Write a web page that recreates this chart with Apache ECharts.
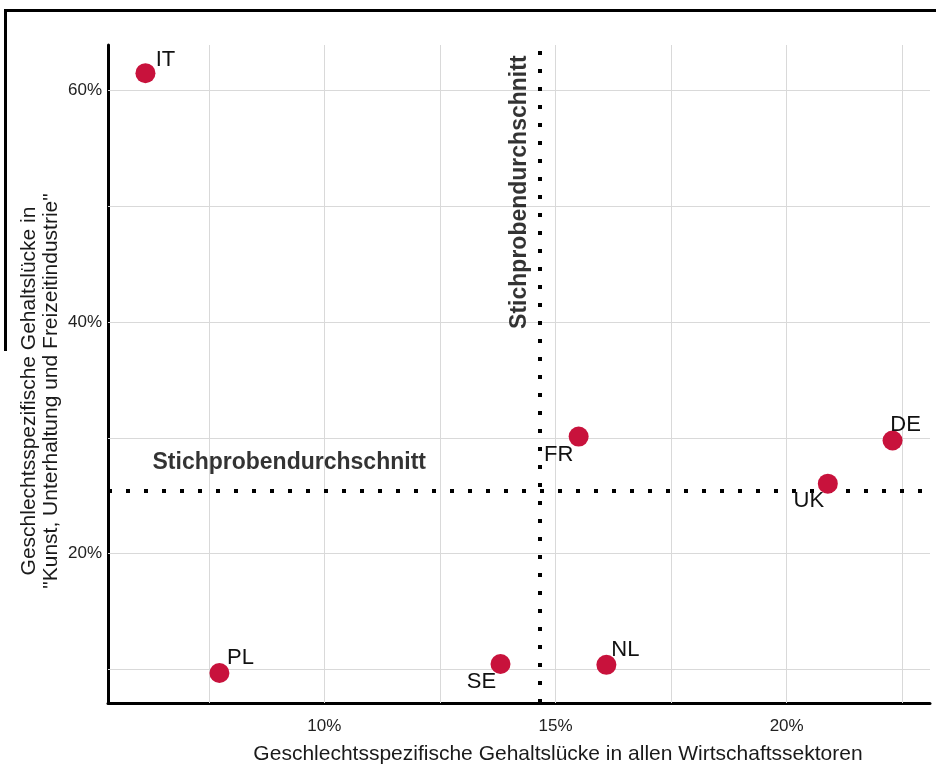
<!DOCTYPE html>
<html><head><meta charset="utf-8">
<script src="https://cdn.jsdelivr.net/npm/echarts@6/dist/echarts.min.js"></script>
<style>html,body{margin:0;padding:0;background:#fff}#c{width:936px;height:765px}</style>
</head><body><div id="c"></div>
<script>
const countries = ['IT','PL','SE','FR','NL','UK','DE'];
const gapAllSectors = [6.13, 7.73, 13.81, 15.50, 16.10, 20.89, 22.29];
const gapArts = [61.47, 9.71, 10.49, 30.11, 10.41, 26.05, 29.77];
const avgAllSectors = 14.65;
const avgArts = 25.44;
const xTickLabels = [10, 15, 20];
const yTickLabels = [20, 40, 60];
const xGrid = [7.5, 10, 12.5, 15, 17.5, 20, 22.5];
const yGrid = [10, 20, 30, 40, 50, 60];
const avgLabel = 'Stichprobendurchschnitt';
const xTitle = 'Geschlechtsspezifische Gehaltslücke in allen Wirtschaftssektoren';
const yTitle1 = 'Geschlechtsspezifische Gehaltslücke in';
const yTitle2 = '"Kunst, Unterhaltung und Freizeitindustrie"';

const labelOffsets = {IT:[20,-13], PL:[21,-15], SE:[-19,18], FR:[-20,18], NL:[19,-15], UK:[-19,17], DE:[13,-16]};
const FONT = 'Liberation Sans, Arial, Helvetica, sans-serif';

const chart = echarts.init(document.getElementById('c'));
const dotStyle = {color:'#000', width:4, type:[4,14], cap:'butt'};
chart.setOption({
  animation:false,
  grid:{left:108, right:6, top:45, bottom:62},
  xAxis:{type:'value', min:5.32, max:23.10,
    splitLine:{show:false}, axisTick:{show:false},
    axisLine:{show:true, onZero:false, lineStyle:{color:'#000', width:3}},
    axisLabel:{customValues:xTickLabels, formatter:v=>v+'%', color:'#222', fontSize:17, fontFamily:FONT, margin:15}},
  yAxis:{type:'value', min:7.12, max:63.9,
    splitLine:{show:false}, axisTick:{show:false},
    axisLine:{show:true, onZero:false, lineStyle:{color:'#000', width:3}},
    axisLabel:{customValues:yTickLabels, formatter:v=>v+'%', color:'#222', fontSize:17, fontFamily:FONT, margin:6}},
  graphic:[
    {type:'rect', shape:{x:5, y:9, width:931, height:3}, style:{fill:'#000'}},
    {type:'rect', shape:{x:4, y:9, width:3, height:342}, style:{fill:'#000'}},
    {type:'text', x:558, y:754, style:{text:xTitle, font:'21px '+FONT, fill:'#1a1a1a', textAlign:'center', textVerticalAlign:'middle'}},
    {type:'text', x:29, y:391, rotation:Math.PI/2, style:{text:yTitle1, font:'21px '+FONT, fill:'#1a1a1a', textAlign:'center', textVerticalAlign:'middle'}},
    {type:'text', x:51, y:391, rotation:Math.PI/2, style:{text:yTitle2, font:'21px '+FONT, fill:'#1a1a1a', textAlign:'center', textVerticalAlign:'middle'}}
  ],
  series:[
    {type:'scatter', data:[], silent:true, z:1,
     markLine:{silent:true, symbol:'none', label:{show:false}, animation:false,
       lineStyle:{color:'#d9d9d9', width:1, type:'solid'},
       data: xGrid.map(v=>({xAxis:v})).concat(yGrid.map(v=>({yAxis:v})))}},
    {type:'scatter', data:[], silent:true, z:3,
     markLine:{silent:true, symbol:'none', label:{show:false}, animation:false,
       lineStyle:dotStyle,
       data:[{xAxis:avgAllSectors},{yAxis:avgArts}]}},
    {type:'scatter', z:5, symbolSize:20, itemStyle:{color:'#C8123C', opacity:1},
     data: countries.map((c,i)=>({value:[gapAllSectors[i], gapArts[i]], name:c,
       label:{show:true, position:'inside', offset:labelOffsets[c], formatter:c, color:'#111', textBorderWidth:0, fontSize:22, fontFamily:FONT}}))},
    {type:'scatter', z:6, symbolSize:0, silent:true,
     data:[
       {value:[9.24, 27.86], label:{show:true, position:'inside', formatter:avgLabel, color:'#000', textBorderWidth:0, fontSize:23, fontWeight:'bold', fontFamily:FONT}},
       {value:[14.22, 51.2], label:{show:true, position:'inside', rotate:90, formatter:avgLabel, color:'#000', textBorderWidth:0, fontSize:23, fontWeight:'bold', fontFamily:FONT}}
     ]}
  ]
});
</script></body></html>
